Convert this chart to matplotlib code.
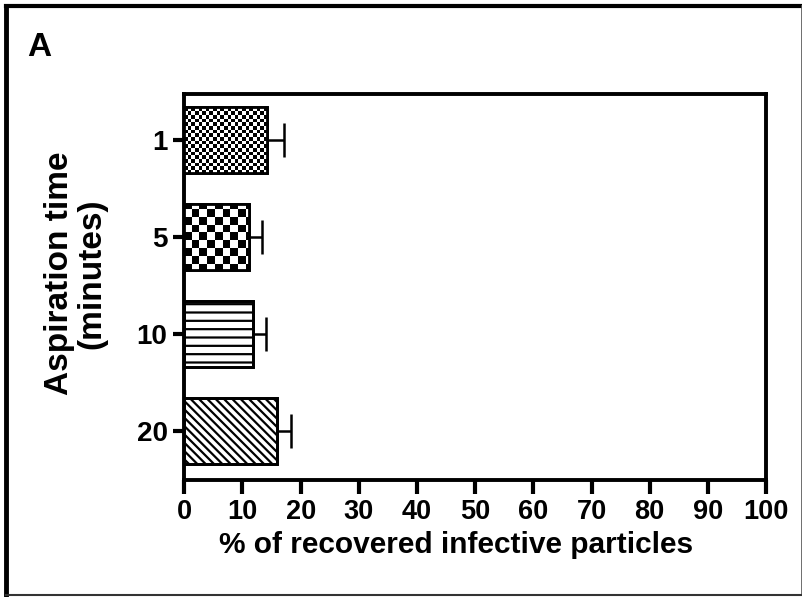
import numpy as np
import matplotlib
matplotlib.use("Agg")
import matplotlib.pyplot as plt
from matplotlib.lines import Line2D

categories = ["1", "5", "10", "20"]
values = [14.2, 11.1, 11.8, 16.0]
errors = [3.0, 2.2, 2.2, 2.3]
xticks = [0, 10, 20, 30, 40, 50, 60, 70, 80, 90, 100]

plt.rcParams['font.family'] = ['Liberation Sans', 'DejaVu Sans']
plt.rcParams['font.weight'] = 'bold'
plt.rcParams['hatch.linewidth'] = 1.6

fig = plt.figure(figsize=(8.03, 5.97), dpi=100)
ax = fig.add_axes([0.2295, 0.196, 0.7245, 0.6465])

pos = np.arange(len(categories))
hatches = [None, None, '--', '\\\\\\\\']
bars = ax.barh(pos, values, height=0.68, color='white', edgecolor='black',
               linewidth=2, zorder=3)
for b, h in zip(bars, hatches):
    if h:
        b.set_hatch(h)

ax.errorbar(values, pos, xerr=[np.zeros(len(values)), errors], fmt='none',
            ecolor='black', elinewidth=1.8, capsize=12, capthick=1.8, zorder=2)

ax.set_ylim(3.5, -0.47)
ax.set_xlim(0, 100)

# checkerboard fills clipped to bars
axw, axh = 0.7245 * 803, 0.6465 * 597
for idx, cell in [(0, 3.6), (1, 7.6)]:
    nx, ny = int(axw / cell), int(axh / cell)
    yy, xx = np.mgrid[0:ny, 0:nx]
    pat = ((xx + yy) % 2).astype(float)
    im = ax.imshow(pat, cmap='gray', extent=[0, 1, 0, 1], transform=ax.transAxes,
                   interpolation='nearest', aspect='auto', zorder=3.5)
    im.set_clip_path(bars[idx])
# redraw edges on top
ax.barh(pos, values, height=0.68, color='none', edgecolor='black',
        linewidth=2, zorder=4)

ax.set_yticks(pos)
ax.set_yticklabels(categories)
ax.set_xticks(xticks)
for s in ax.spines.values():
    s.set_linewidth(2.8)
ax.tick_params(axis='y', length=8, width=3, labelsize=20, pad=4)
ax.tick_params(axis='x', length=10, width=3, labelsize=19.5, pad=4)
for t in ax.get_xticklabels() + ax.get_yticklabels():
    t.set_fontweight('bold')

ax.set_xlabel("% of recovered infective particles", fontsize=21.5, fontweight='bold',
              va='center')
ax.xaxis.set_label_coords(0.467, -0.168)
ax.set_ylabel("Aspiration time\n(minutes)", fontsize=24, fontweight='bold',
              linespacing=1.05, va='center')
ax.yaxis.set_label_coords(-0.186, 0.535)

fig.text(0.034, 0.947, "A", fontsize=24, fontweight='bold', va='top')

# figure border
fig.add_artist(Line2D([0.007, 0.9985], [0.9895, 0.9895], color='black', lw=3, transform=fig.transFigure))
fig.add_artist(Line2D([0.007, 0.007], [0.003, 0.9895], color='black', lw=3.5, transform=fig.transFigure))
fig.add_artist(Line2D([0.9985, 0.9985], [0.003, 0.9895], color='#555555', lw=1.2, transform=fig.transFigure))
fig.add_artist(Line2D([0.007, 0.9985], [0.003, 0.003], color='#333333', lw=1.5, transform=fig.transFigure))

fig.savefig("out.png", dpi=100)
